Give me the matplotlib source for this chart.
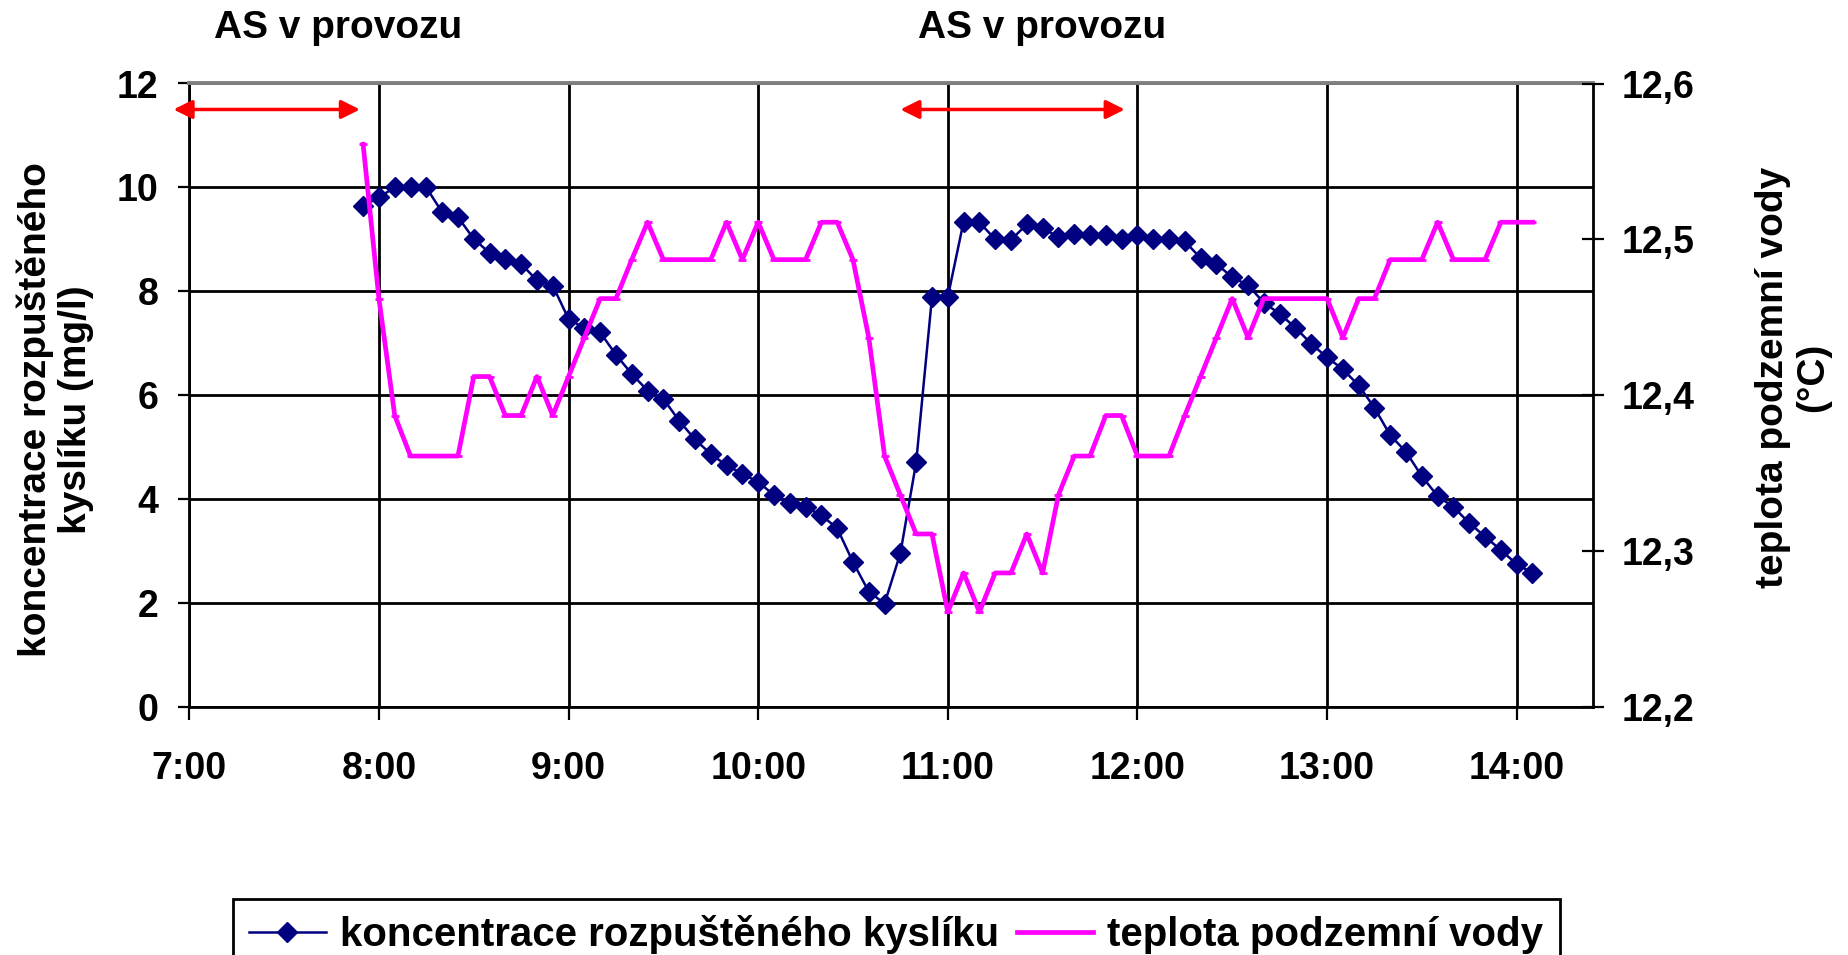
import matplotlib
matplotlib.use("Agg")
import matplotlib.pyplot as plt
from matplotlib.transforms import blended_transform_factory

plt.rcParams['font.family'] = ['Liberation Sans', 'DejaVu Sans']
plt.rcParams['font.weight'] = 'bold'

# ---------------- data ----------------
times = ["7:55",
         "8:00", "8:05", "8:10", "8:15", "8:20", "8:25", "8:30", "8:35", "8:40", "8:45", "8:50", "8:55",
         "9:00", "9:05", "9:10", "9:15", "9:20", "9:25", "9:30", "9:35", "9:40", "9:45", "9:50", "9:55",
         "10:00", "10:05", "10:10", "10:15", "10:20", "10:25", "10:30", "10:35", "10:40", "10:45", "10:50", "10:55",
         "11:00", "11:05", "11:10", "11:15", "11:20", "11:25", "11:30", "11:35", "11:40", "11:45", "11:50", "11:55",
         "12:00", "12:05", "12:10", "12:15", "12:20", "12:25", "12:30", "12:35", "12:40", "12:45", "12:50", "12:55",
         "13:00", "13:05", "13:10", "13:15", "13:20", "13:25", "13:30", "13:35", "13:40", "13:45", "13:50", "13:55",
         "14:00", "14:05"]

oxygen = [9.64,
          9.81, 10.0, 10.0, 10.0, 9.52, 9.43, 9.01, 8.74, 8.63, 8.53, 8.21, 8.11,
          7.47, 7.29, 7.21, 6.78, 6.41, 6.09, 5.93, 5.51, 5.15, 4.87, 4.65, 4.49,
          4.33, 4.08, 3.92, 3.85, 3.69, 3.44, 2.79, 2.22, 1.99, 2.96, 4.71, 7.89,
          7.89, 9.34, 9.33, 9.00, 8.99, 9.29, 9.22, 9.04, 9.10, 9.08, 9.08, 9.01,
          9.08, 9.01, 9.01, 8.96, 8.64, 8.53, 8.27, 8.12, 7.78, 7.57, 7.30, 6.99,
          6.73, 6.50, 6.19, 5.76, 5.23, 4.91, 4.44, 4.06, 3.85, 3.54, 3.28, 3.02,
          2.75, 2.58]

temperature = [12.561,
               12.462, 12.387, 12.361, 12.361, 12.361, 12.361, 12.412, 12.412, 12.387, 12.387, 12.412, 12.387,
               12.412, 12.437, 12.462, 12.462, 12.487, 12.511, 12.487, 12.487, 12.487, 12.487, 12.511, 12.487,
               12.511, 12.487, 12.487, 12.487, 12.511, 12.511, 12.487, 12.437, 12.361, 12.336, 12.311, 12.311,
               12.261, 12.286, 12.261, 12.286, 12.286, 12.311, 12.286, 12.336, 12.361, 12.361, 12.387, 12.387,
               12.361, 12.361, 12.361, 12.387, 12.412, 12.437, 12.462, 12.437, 12.462, 12.462, 12.462, 12.462,
               12.462, 12.437, 12.462, 12.462, 12.487, 12.487, 12.487, 12.511, 12.487, 12.487, 12.487, 12.511,
               12.511, 12.511]

x_tick_labels = ["7:00", "8:00", "9:00", "10:00", "11:00", "12:00", "13:00", "14:00"]
left_ticks = [0, 2, 4, 6, 8, 10, 12]
right_ticks = [12.2, 12.3, 12.4, 12.5, 12.6]
right_tick_labels = ["12,2", "12,3", "12,4", "12,5", "12,6"]

series_labels = ["koncentrace rozpuštěného kyslíku", "teplota podzemní vody"]
left_label = "koncentrace rozpuštěného\nkyslíku (mg/l)"
right_label = "teplota podzemní vody\n(°C)"
note_text = "AS v provozu"
note_positions = ["7:47", "11:30"]
arrow_spans = [("6:55", "7:54"), ("10:45", "11:56")]


def to_hours(s):
    h, m = s.split(":")
    return int(h) + int(m) / 60.0


x = [to_hours(t) for t in times]
x_ticks = [to_hours(t) for t in x_tick_labels]

# ---------------- figure ----------------
W, H = 1848, 955
fig = plt.figure(figsize=(W / 100, H / 100), dpi=100)
ax = fig.add_axes([189.3 / W, 1 - 707 / H, (1592.5 - 189.3) / W, (707 - 83.5) / H])
ax2 = ax.twinx()

navy = '#000080'
magenta = '#FF00FF'

l1, = ax.plot(x, oxygen, color=navy, lw=1.8, marker='D', ms=10,
              mfc=navy, mec=navy, zorder=3)
l2, = ax2.plot(x, temperature, color=magenta, lw=3.4, marker='_', ms=6, mew=2,
               zorder=3)

ax.set_xlim(7, 14.4)
ax.set_ylim(0, 12)
ax2.set_ylim(12.2, 12.6)

ax.set_xticks(x_ticks)
ax.set_xticklabels(x_tick_labels)
ax.set_yticks(left_ticks)
ax.set_yticklabels([str(v) for v in left_ticks])
ax2.set_yticks(right_ticks)
ax2.set_yticklabels(right_tick_labels)

ax.grid(True, color='black', lw=2.0)
ax.set_axisbelow(True)

for s in ['left', 'bottom']:
    ax.spines[s].set_color('black')
    ax.spines[s].set_linewidth(2.0)
ax.spines['top'].set_color('#808080')
ax.spines['top'].set_linewidth(2.8)
ax.spines['right'].set_visible(False)
for s in ['left', 'bottom', 'top']:
    ax2.spines[s].set_visible(False)
ax2.spines['right'].set_color('black')
ax2.spines['right'].set_linewidth(2.0)

ax.tick_params(axis='y', direction='out', length=8, width=1.6, pad=14,
               labelsize=27, colors='black')
ax.tick_params(axis='x', direction='out', length=9, width=1.6, pad=23,
               labelsize=27, colors='black')
ax2.tick_params(axis='y', direction='inout', length=16, width=1.6, pad=13,
                labelsize=27, colors='black')

# axis titles
fig.text(55 / W, 1 - 410 / H, left_label, rotation=90, ha='center', va='center',
         fontsize=28, fontweight='bold', multialignment='center', linespacing=1.15)
fig.text(1793 / W, 1 - 377 / H, right_label, rotation=90, ha='center', va='center',
         fontsize=28, fontweight='bold', multialignment='center', linespacing=1.15)

# "AS v provozu" notes and arrows
trans = blended_transform_factory(ax.transData, fig.transFigure)
for p in note_positions:
    ax.text(to_hours(p), 1 - 38 / H, note_text, transform=trans, ha='center',
            va='baseline', fontsize=28, fontweight='bold')

for a, b in arrow_spans:
    ax.annotate('', xy=(to_hours(a), 11.5), xytext=(to_hours(b), 11.5),
                xycoords='data', textcoords='data', annotation_clip=False,
                arrowprops=dict(arrowstyle='<|-|>', color='red', lw=2.5,
                                mutation_scale=28, shrinkA=0, shrinkB=0))

# legend
leg = fig.legend([l1, l2], series_labels, loc='upper left',
                 bbox_to_anchor=(233 / W, 1 - 899 / H), ncol=2, frameon=True,
                 fancybox=False, edgecolor='black', framealpha=1,
                 prop={'family': 'Liberation Sans', 'weight': 'bold', 'size': 29},
                 handlelength=1.9, handletextpad=0.35, columnspacing=0.45,
                 borderpad=0.4, borderaxespad=0)
leg.get_frame().set_linewidth(2.0)

fig.savefig('out.png', dpi=100)
